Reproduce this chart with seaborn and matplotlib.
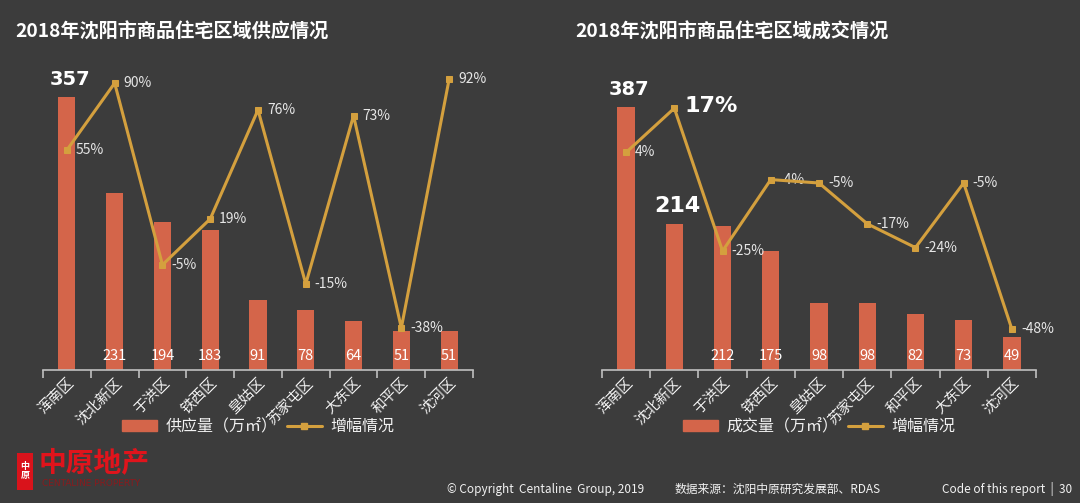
import matplotlib
matplotlib.use("Agg")
import matplotlib.pyplot as plt
from matplotlib.patches import Rectangle, Patch
from matplotlib.lines import Line2D
import seaborn as sns
import numpy as np
import pandas as pd

# data
supply_districts = ['浑南区', '沈北新区', '于洪区', '铁西区', '皇姑区', '苏家屯区', '大东区', '和平区', '沈河区']
supply_values = [357, 231, 194, 183, 91, 78, 64, 51, 51]
supply_growth = [55, 90, -5, 19, 76, -15, 73, -38, 92]

deal_districts = ['浑南区', '沈北新区', '于洪区', '铁西区', '皇姑区', '苏家屯区', '和平区', '大东区', '沈河区']
deal_values = [387, 214, 212, 175, 98, 98, 82, 73, 49]
deal_growth = [4, 17, -25, -4, -5, -17, -24, -5, -48]

BG = '#3c3c3c'
BAR = '#d4654a'
LINE = '#d4a03e'
TXT = '#f2f2f2'

sns.set_theme(style="dark", rc={"axes.facecolor": BG, "figure.facecolor": BG})
plt.rcParams['font.family'] = ['Noto Sans CJK SC', 'DejaVu Sans']

fig = plt.figure(figsize=(10.8, 5.03), dpi=100)
W, H = 1080, 503


def px_axes(x0, x1, y_top, y_base):
    return fig.add_axes([x0 / W, (H - y_base) / H, (x1 - x0) / W, (y_base - y_top) / H])


def draw_panel(ax, districts, values, growth, ymax, g_lim, big_bars, big_growth, legend_name):
    df = pd.DataFrame({'district': districts, 'value': values})
    sns.barplot(data=df, x='district', y='value', color=BAR, width=0.36,
                saturation=1, linewidth=0, ax=ax, zorder=2)
    ax.set_ylim(0, ymax)
    ax.set_xlim(-0.5, len(districts) - 0.5)
    ax.set_xlabel('')
    ax.set_ylabel('')
    ax.set_yticks([])
    for s in ['top', 'right', 'left']:
        ax.spines[s].set_visible(False)
    ax.spines['bottom'].set_color('#bfbfbf')
    ax.spines['bottom'].set_linewidth(1.2)
    ax.set_xticks(np.arange(-0.5, len(districts), 1.0), minor=True)
    ax.tick_params(axis='x', which='minor', length=6, color='#bfbfbf', width=1.2, bottom=True)
    ax.tick_params(axis='x', which='major', length=0, pad=4)
    ax.set_xticks(range(len(districts)))
    ax.set_xticklabels(districts, rotation=45, ha='right', rotation_mode='anchor',
                       color=TXT, fontsize=10.5)

    # value labels
    for i, v in enumerate(values):
        if i in big_bars:
            ax.annotate(str(v), (i, v), xytext=(3, 8), textcoords='offset pixels',
                        ha='center', va='bottom', color='white', fontsize=big_bars[i],
                        fontweight='bold', family='DejaVu Sans')
        else:
            ax.annotate(str(v), (i, 0), xytext=(0, 14), textcoords='offset pixels',
                        ha='center', va='center', color='white', fontsize=10.5)

    ax2 = ax.twinx()
    sns.lineplot(x=np.arange(len(growth)), y=growth, ax=ax2, color=LINE, linewidth=2.2,
                 marker='s', markersize=5, markeredgecolor=LINE, zorder=3)
    ax2.set_ylim(*g_lim)
    ax2.set_yticks([])
    ax2.set_ylabel('')
    ax2.grid(False)
    for s in ['top', 'right', 'left', 'bottom']:
        ax2.spines[s].set_visible(False)
    for i, g in enumerate(growth):
        if i in big_growth:
            ax2.annotate(f'{g}%', (i, g), xytext=(10, 2), textcoords='offset pixels',
                         ha='left', va='center', color='white', fontsize=big_growth[i],
                         fontweight='bold', family='DejaVu Sans')
        else:
            ax2.annotate(f'{g}%', (i, g), xytext=(9, 0), textcoords='offset pixels',
                         ha='left', va='center', color='#e6e6e6', fontsize=10,
                         zorder=1)

    handles = [Patch(facecolor=BAR, edgecolor=BAR),
               Line2D([0], [0], color=LINE, linewidth=2.2, marker='s', markersize=5)]
    leg = ax.legend(handles, [legend_name, '增幅情况'], loc='center', ncol=2,
                    bbox_to_anchor=(0.5, -0.185), frameon=False, fontsize=11.5,
                    handlelength=2.2, columnspacing=0.6, handletextpad=0.5)
    for t in leg.get_texts():
        t.set_color(TXT)
    return ax2


ax_l = px_axes(43, 473, 64, 370)
draw_panel(ax_l, supply_districts, supply_values, supply_growth, 400, (-60, 100),
           {0: 14}, {}, '供应量（万㎡）')

ax_r = px_axes(602, 1036, 64, 370)
draw_panel(ax_r, deal_districts, deal_values, deal_growth, 450, (-60, 30),
           {0: 14, 1: 16}, {1: 16}, '成交量（万㎡）')

# titles
fig.text(15 / W, 1 - 32 / H, '2018年沈阳市商品住宅区域供应情况', color='white',
         fontsize=13.8, fontweight='bold', va='center', ha='left')
fig.text(575 / W, 1 - 32 / H, '2018年沈阳市商品住宅区域成交情况', color='white',
         fontsize=13.8, fontweight='bold', va='center', ha='left')

# logo
fig.patches.append(Rectangle((17 / W, 1 - 490 / H), 16 / W, 37 / H, transform=fig.transFigure,
                             facecolor='#d9131b', edgecolor='none'))
fig.text(25 / W, 1 - 471 / H, '中\n原', color='white', fontsize=6.5, fontweight='bold',
         ha='center', va='center', linespacing=1.1)
fig.text(39 / W, 1 - 463 / H, '中原地产', color='#e0141c', fontsize=20, fontweight='bold',
         ha='left', va='center')
fig.text(42 / W, 1 - 484 / H, 'CENTALINE PROPERTY', color='#8a1a1d', fontsize=6.5,
         ha='left', va='center', family='DejaVu Sans')

# footer
fig.text(447 / W, 1 - 489 / H, '© Copyright  Centaline  Group, 2019', color=TXT,
         fontsize=8.5, ha='left', va='center')
fig.text(675 / W, 1 - 489 / H, '数据来源：沈阳中原研究发展部、RDAS', color=TXT,
         fontsize=8.5, ha='left', va='center')
fig.text(1072 / W, 1 - 489 / H, 'Code of this report  |  30', color=TXT,
         fontsize=8.5, ha='right', va='center')

fig.savefig('out.png', dpi=100, facecolor=BG)
